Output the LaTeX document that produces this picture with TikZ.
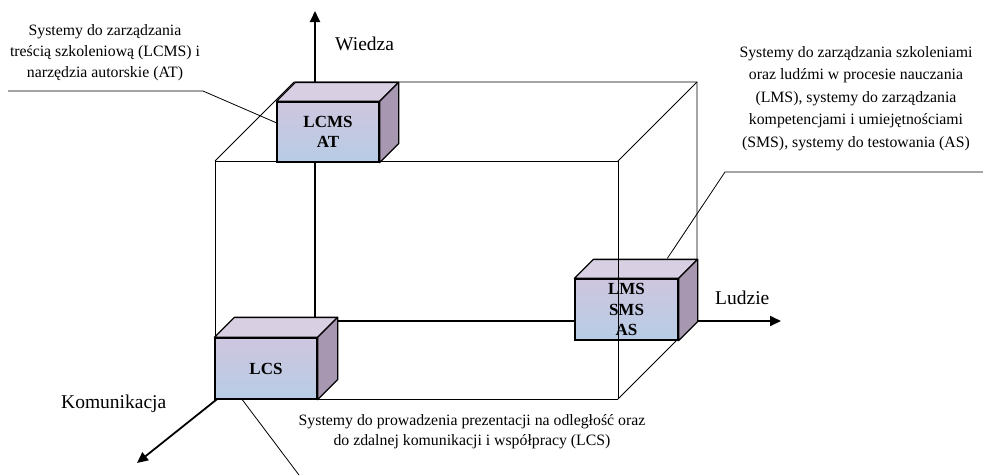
\documentclass[tikz,border=0pt]{standalone}
\usepackage{fontspec}
\setmainfont{Liberation Serif}
\usetikzlibrary{arrows.meta,calc}

\definecolor{faceTop}{HTML}{D8CFE3}
\definecolor{faceSide}{HTML}{A797B0}
\definecolor{frontUp}{HTML}{CFC6DF}
\definecolor{frontDown}{HTML}{B7CCE5}

\tikzset{
  axisline/.style={line width=1.8pt,-{Triangle[length=11pt,width=10pt]}},
  frameline/.style={line width=0.9pt},
  calloutline/.style={line width=0.8pt},
  cubefront/.style={draw,line width=1.3pt,top color=frontUp,bottom color=frontDown,
    inner sep=0pt,align=center,font=\fontsize{17}{20.5}\selectfont\bfseries},
  cubeedge/.style={draw,line width=1.3pt,line join=round},
  note/.style={align=center,inner sep=0pt,font=\fontsize{15.8}{21}\selectfont},
  axislabel/.style={inner sep=0pt,anchor=base west,font=\fontsize{19.5}{23}\selectfont}
}

% top and right faces of a cuboid whose front face is node #1
\newcommand\cuboidfaces[2]{%
  \path[cubeedge,fill=faceTop] (#1.north west) -- ++(#2,-#2) -- ($(#1.north east)+(#2,-#2)$) -- (#1.north east) -- cycle;
  \path[cubeedge,fill=faceSide] (#1.north east) -- ++(#2,-#2) -- ($(#1.south east)+(#2,-#2)$) -- (#1.south east) -- cycle;
}

\begin{document}
\begin{tikzpicture}[x=1pt,y=-1pt]
\useasboundingbox (0,0) rectangle (983,475);

% wireframe corners: front face and back face
\coordinate (f1) at (215,161);
\coordinate (f2) at (618,161);
\coordinate (f3) at (618,399);
\coordinate (f4) at (215,399);
\coordinate (b1) at (294,82);
\coordinate (b2) at (697,82);
\coordinate (b3) at (697,320);

% axis ends
\coordinate (origin) at (315,321);
\coordinate (wiedzatip) at (315,11);
\coordinate (ludzietip) at (781,321);
\coordinate (komtip) at (137,463);

% wireframe behind the boxes
\draw[frameline] (f1) -- (b1) -- (b2) -- (b3);
\draw[frameline] (f2) -- (b2);
\draw[frameline] (f3) -- (b3);
\draw[frameline] (f4) -- (f1) -- (f2);
\draw[frameline] (f4) -- (f3);

% axes
\draw[axisline] (origin) -- (wiedzatip);
\draw[axisline] (origin) -- (ludzietip);
\draw[axisline] (origin) -- (komtip);

% boxes
\node[cubefront,minimum width=102pt,minimum height=60pt] (lcms) at (328,132) {LCMS\\AT};
\cuboidfaces{lcms}{19}
\node[cubefront,minimum width=102pt,minimum height=61pt] (lcs) at (266,368.5) {LCS};
\cuboidfaces{lcs}{20}
\node[cubefront,minimum width=103pt,minimum height=61pt] (lms) at (626.5,309.5) {LMS\\SMS\\AS};
\cuboidfaces{lms}{19}

% front right edge of the wireframe passes in front of the LMS box
\draw[frameline] (f2) -- (f3);

% axis labels
\node[axislabel] (wiedza) at (335,50) {Wiedza};
\node[axislabel] (ludzie) at (715,304) {Ludzie};
\node[axislabel] (komunikacja) at (61,408) {Komunikacja};

% descriptions
\node[note] (lcmsnote) at (105,53) {Systemy do zarządzania\\treścią szkoleniową (LCMS) i\\narzędzia autorskie (AT)};
\node[note,font=\fontsize{15.8}{22.5}\selectfont] (lmsnote) at (856,98.5) {Systemy do zarządzania szkoleniami\\oraz ludźmi w procesie nauczania\\(LMS), systemy do zarządzania\\kompetencjami i umiejętnościami\\(SMS), systemy do testowania (AS)};
\node[note,font=\fontsize{15.8}{20}\selectfont] (lcsnote) at (472,431.5) {Systemy do prowadzenia prezentacji na odległość oraz\\do zdalnej komunikacji i współpracy (LCS)};

% callout leaders
\coordinate (lcmsfree) at (8,91);
\coordinate (lcmsknee) at (203,91);
\draw[calloutline] (lcmsfree) -- (lcmsknee) -- ($(lcms.north west)!0.35!(lcms.south west)$);
\coordinate (lmsfree) at (983,172);
\coordinate (lmsknee) at (725,172);
\draw[calloutline] (lmsfree) -- (lmsknee) -- ($(lms.north west)+(93,-20)$);
\coordinate (lcsfree) at (299,475);
\draw[calloutline] ($(lcs.south west)!0.27!(lcs.south east)$) -- (lcsfree);
\end{tikzpicture}
\end{document}
